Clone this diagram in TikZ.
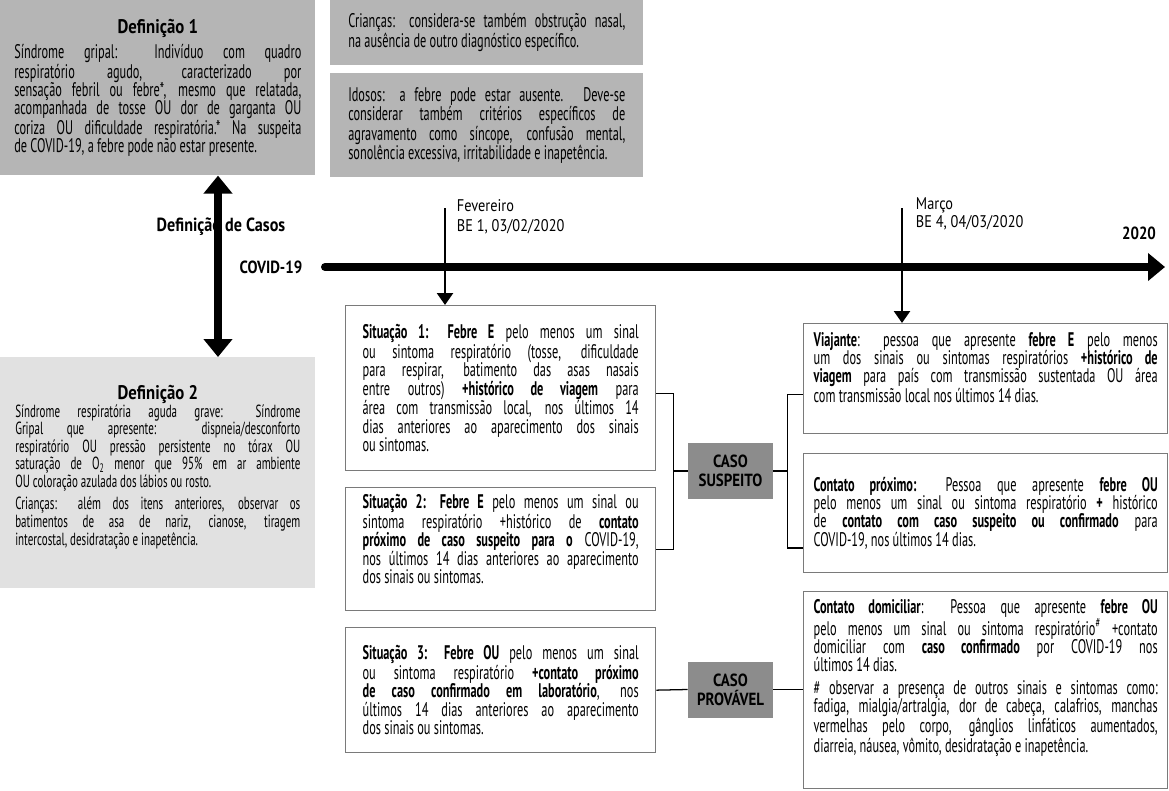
\documentclass[tikz,border=0pt]{standalone}
\usepackage{fontspec}
\setmainfont[FakeStretch=0.625]{PT Sans}
\newfontfamily\rotulo[FakeStretch=0.85]{PT Sans}
\usetikzlibrary{arrows.meta,positioning}
\definecolor{escuro}{HTML}{8C8C8C}
\definecolor{medio}{HTML}{B5B5B5}
\definecolor{claro}{HTML}{E1E1E1}
\definecolor{borda}{HTML}{7A7A7A}
\newcommand{\sobe}[1]{\par\kern#1}
\lineskiplimit=-8pt

\begin{document}
\begin{tikzpicture}[x=0.025cm,y=-0.025cm]
    \tikzstyle{texto}=[font=\fontsize{14}{13}\selectfont,align=justify,anchor=north west,inner ysep=0pt]
    \tikzstyle{cinza}=[texto,fill=medio]
    \tikzstyle{situacao}=[texto,draw=borda,fill=white,line width=0.9pt]
    \tikzstyle{titulo}=[font=\rotulo\fontsize{13.5}{16}\selectfont\bfseries]
    \tikzstyle{caso}=[fill=escuro,font=\rotulo\fontsize{12.5}{13.5}\selectfont\bfseries,align=center,minimum width=2.125cm,minimum height=1.4cm]
    \tikzstyle{liga}=[line width=0.9pt]
    \tikzstyle{marco}=[line width=1.8pt,-{Triangle[length=0.3cm,width=0.4cm]}]
    \useasboundingbox (0,0) rectangle (1169,790);

    % definicoes
    \node[cinza,minimum width=7.875cm,minimum height=4.375cm,inner xsep=0.35cm,text width=7.175cm] (def1) at (0,0)
        {{\centering\rotulo\fontsize{14}{16}\selectfont\textbf{Definição 1}\par}\vspace{4pt}
        Síndrome gripal: Indivíduo com quadro\linebreak
        respiratório agudo, caracterizado por\linebreak
        sensação febril ou febre*, mesmo que relatada,\linebreak
        acompanhada de tosse OU dor de garganta OU\linebreak
        coriza OU dificuldade respiratória.* Na suspeita\linebreak
        de COVID-19, a febre pode não estar presente.};
    \node[cinza,font=\fontsize{14}{14}\selectfont,minimum width=7.825cm,minimum height=1.625cm,inner xsep=0.45cm,text width=6.925cm] (cri) at (330,0)
        {Crianças: considera-se também obstrução nasal,\linebreak
        na ausência de outro diagnóstico específico.};
    \node[cinza,font=\fontsize{14}{13.8}\selectfont,minimum width=7.825cm,minimum height=2.6cm,inner xsep=0.45cm,text width=6.925cm] (ido) at (330,73)
        {Idosos: a febre pode estar ausente. Deve-se\linebreak
        considerar também critérios específicos de\linebreak
        agravamento como síncope, confusão mental,\linebreak
        sonolência excessiva, irritabilidade e inapetência.};
    \node[texto,fill=claro,font=\fontsize{12.5}{11.4}\selectfont,minimum width=7.875cm,minimum height=5.775cm,inner xsep=0.375cm,text width=7.125cm] (def2) at (0,357)
        {{\centering\rotulo\fontsize{14}{16}\selectfont\textbf{Definição 2}\par}
        Síndrome respiratória aguda grave: Síndrome\linebreak
        Gripal que apresente: dispneia/desconforto\linebreak
        respiratório OU pressão persistente no tórax OU\linebreak
        saturação de O\textsubscript{2} menor que 95\% em ar ambiente\linebreak
        OU coloração azulada dos lábios ou rosto.\par\vspace{3pt}
        Crianças: além dos itens anteriores, observar os\linebreak
        batimentos de asa de nariz, cianose, tiragem\linebreak
        intercostal, desidratação e inapetência.\sobe{0.3cm}};

    % eixo do tempo
    \coordinate (eixo) at (218,267);
    \draw[line width=0.2cm,{Triangle[length=0.45cm,width=0.7cm]}-{Triangle[length=0.45cm,width=0.7cm]}]
        (def1.south -| eixo) -- (def2.north -| eixo);
    \node[titulo] (dc) at (221,227) {Definição de Casos};
    \node[titulo,font=\rotulo\fontsize{12.5}{14}\selectfont\bfseries] (cv) at (271,267) {COVID-19};
    \coordinate (t0) at (325,267);
    \coordinate (t1) at (1165,267);
    \draw[line width=0.2cm,line cap=round,-{Triangle[length=0.425cm,width=0.675cm]}] (t0) -- (t1);
    \node[titulo,font=\rotulo\fontsize{12.5}{14}\selectfont\bfseries] (ano) at (1139,233) {2020};

    % situacoes
    \node[situacao,minimum width=7.75cm,minimum height=4.125cm,inner xsep=0.425cm,text width=6.9cm] (s1) at (345,305)
        {\textbf{Situação 1: Febre E} pelo menos um sinal\linebreak
        ou sintoma respiratório (tosse, dificuldade\linebreak
        para respirar, batimento das asas nasais\linebreak
        entre outros) \textbf{+histórico de viagem} para\linebreak
        área com transmissão local, nos últimos 14\linebreak
        dias anteriores ao aparecimento dos sinais\linebreak
        ou sintomas.};
    \node[situacao,minimum width=7.75cm,minimum height=3.075cm,inner xsep=0.425cm,text width=6.9cm] (s2) at (345,487)
        {\textbf{Situação 2: Febre E} pelo menos um sinal ou\linebreak
        sintoma respiratório +histórico de \textbf{contato}\linebreak
        \textbf{próximo de caso suspeito para o} COVID-19,\linebreak
        nos últimos 14 dias anteriores ao aparecimento\linebreak
        dos sinais ou sintomas.\sobe{0.5cm}};
    \node[situacao,minimum width=7.75cm,minimum height=3.125cm,inner xsep=0.425cm,text width=6.9cm] (s3) at (345,627)
        {\textbf{Situação 3: Febre OU} pelo menos um sinal\linebreak
        ou sintoma respiratório \textbf{+contato próximo}\linebreak
        \textbf{de caso confirmado em laboratório}, nos\linebreak
        últimos 14 dias anteriores ao aparecimento\linebreak
        dos sinais ou sintomas.};

    % marcos
    \coordinate (fev) at (445,208);
    \draw[marco] (fev) -- (fev |- s1.north);
    \node[anchor=west,align=left,font=\rotulo\fontsize{12}{14}\selectfont] (fevtxt) at (452,217)
        {Fevereiro\\BE 1, 03/02/2020};

    % casos
    \node[caso] (sus) at (730.5,471) {CASO\\SUSPEITO};
    \node[caso] (prov) at (730.5,689.5) {CASO\\PROVÁVEL};

    \node[situacao,minimum width=9.1cm,minimum height=2.75cm,inner xsep=0.25cm,text width=8.6cm] (vj) at (803,323)
        {\textbf{Viajante}: pessoa que apresente \textbf{febre E} pelo menos\linebreak
        um dos sinais ou sintomas respiratórios \textbf{+histórico de}\linebreak
        \textbf{viagem} para país com transmissão sustentada OU área\linebreak
        com transmissão local nos últimos 14 dias.\sobe{0.55cm}};
    \node[situacao,minimum width=9.1cm,minimum height=2.975cm,inner xsep=0.25cm,text width=8.6cm] (cp) at (803,453)
        {\textbf{Contato próximo:} Pessoa que apresente \textbf{febre OU}\linebreak
        pelo menos um sinal ou sintoma respiratório \textbf{+} histórico\linebreak
        de \textbf{contato com caso suspeito ou confirmado} para\linebreak
        COVID-19, nos últimos 14 dias.};
    \node[situacao,minimum width=9.1cm,minimum height=4.925cm,inner xsep=0.25cm,text width=8.6cm] (cd) at (803,591)
        {\textbf{Contato domiciliar}: Pessoa que apresente \textbf{febre OU}\linebreak
        pelo menos um sinal ou sintoma respiratório\textsuperscript{\#} +contato\linebreak
        domiciliar com \textbf{caso confirmado} por COVID-19 nos\linebreak
        últimos 14 dias.\par\vspace{3pt}
        \# observar a presença de outros sinais e sintomas como:\linebreak
        fadiga, mialgia/artralgia, dor de cabeça, calafrios, manchas\linebreak
        vermelhas pelo corpo, gânglios linfáticos aumentados,\linebreak
        diarreia, náusea, vômito, desidratação e inapetência.\sobe{0.6cm}};

    \coordinate (mar) at (902,208);
    \draw[marco] (mar) -- (mar |- vj.north);
    \node[anchor=west,align=left,font=\rotulo\fontsize{12}{13}\selectfont] (martxt) at (911,214)
        {Março\\BE 4, 04/03/2020};

    % ligacoes
    \draw[liga] ([yshift=-0.14cm]s1.east) -- ++(17,0) |- (sus.west);
    \draw[liga] (s2.east) -- ++(17,0) |- (sus.west);
    \draw[liga] (sus.east) -- ++(14,0) |- ([yshift=-0.4cm]vj.west);
    \draw[liga] (sus.east) -- ++(14,0) |- ([yshift=-0.87cm]cp.west);
    \draw[liga] (s3.east) -- (prov.west);
    \draw[liga] (prov.east) -- (prov.east -| cd.west);
\end{tikzpicture}
\end{document}
